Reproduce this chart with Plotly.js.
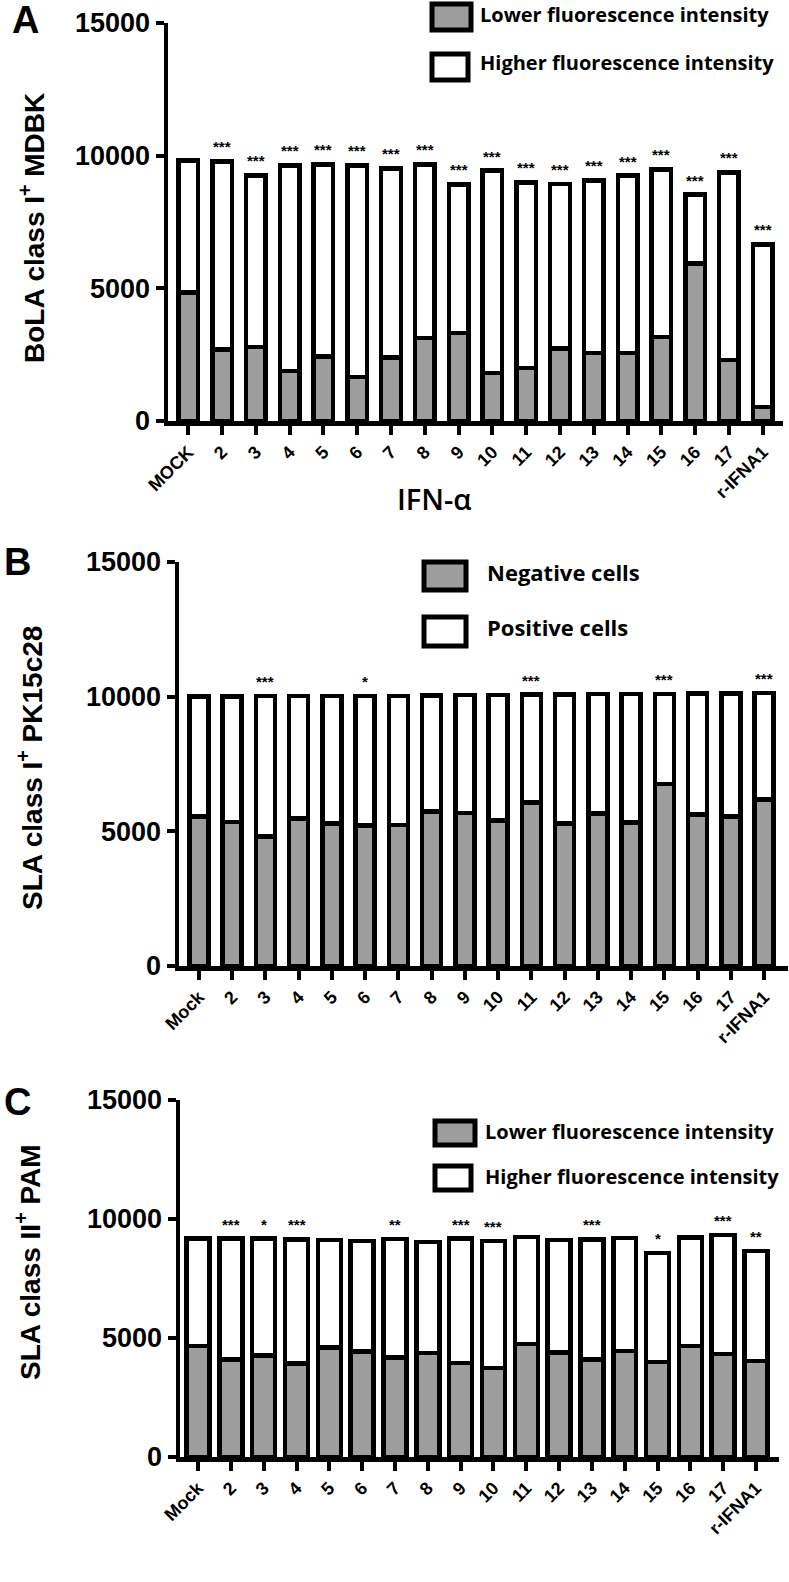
<!DOCTYPE html>
<html>
<head>
<meta charset="utf-8">
<script src="https://cdn.plot.ly/plotly-3.0.1.min.js"></script>
<style>
    html, body { margin: 0; padding: 0; background: #fff; }
    #chart { width: 789px; height: 1582px; }
</style>
</head>
<body>
<div id="chart"></div>
<script>
const IFN_SUBTYPES = ['2', '3', '4', '5', '6', '7', '8', '9', '10', '11', '12', '13', '14', '15', '16', '17', 'r-IFNA1'];
const CATEGORIES_A = ['MOCK', ...IFN_SUBTYPES];
const CATEGORIES_BC = ['Mock', ...IFN_SUBTYPES];

// Panel A: BoLA class I+ MDBK
const LOWER_A = [4850, 2700, 2780, 1880, 2440, 1650, 2400, 3120, 3310, 1800, 1990, 2740, 2560, 2560, 3160, 5940, 2290, 530];
const HIGHER_A = [4970, 7080, 6480, 7750, 7230, 7980, 7120, 6550, 5610, 7640, 7000, 6190, 6510, 6690, 6320, 2590, 7080, 6130];
const STARS_A = ['', '***', '***', '***', '***', '***', '***', '***', '***', '***', '***', '***', '***', '***', '***', '***', '***', '***'];

// Panel B: SLA class I+ PK15c28
const NEGATIVE_B = [5560, 5340, 4810, 5485, 5300, 5220, 5240, 5730, 5680, 5400, 6080, 5300, 5670, 5330, 6750, 5630, 5550, 6190];
const POSITIVE_B = [4440, 4660, 5210, 4535, 4720, 4810, 4790, 4320, 4380, 4670, 4000, 4780, 4420, 4760, 3350, 4480, 4560, 3940];
const STARS_B = ['', '', '***', '', '', '*', '', '', '', '', '***', '', '', '', '***', '', '', '***'];

// Panel C: SLA class II+ PAM
const LOWER_C = [4670, 4100, 4270, 3920, 4600, 4430, 4190, 4360, 3960, 3750, 4740, 4390, 4100, 4460, 3990, 4670, 4320, 4030];
const HIGHER_C = [4510, 5080, 4910, 5220, 4510, 4640, 4970, 4680, 5220, 5320, 4510, 4720, 5040, 4750, 4590, 4560, 5010, 4630];
const STARS_C = ['', '***', '*', '***', '', '', '**', '', '***', '***', '', '', '***', '', '*', '', '***', '**'];

const Y_TICKS = [0, 5000, 10000, 15000];

const WIDTH = 789;
const HEIGHT = 1582;
const GREY = '#9d9d9d';
const BOLD_FONT = 'Liberation Sans, Arial, sans-serif';
const LEGEND_FONT = 'Open Sans, sans-serif';

const px = (x) => x / WIDTH;
const py = (y) => 1 - y / HEIGHT;

const panels = [
    {
        letter: 'A', letterPos: [25, 20],
        xBox: [168, 783], yBox: [23, 421], xRange: [-0.6, 17.6], barWidth: 0.58,
        categories: CATEGORIES_A, lower: LOWER_A, higher: HIGHER_A, stars: STARS_A,
        title: 'BoLA class I<sup>+</sup> MDBK', titlePos: [32, 228],
        legend: ['Lower fluorescence intensity', 'Higher fluorescence intensity'],
        legendFont: 20, legendText: 478,
        legendBoxes: [[432, 4, 471, 30], [432, 54, 468, 80]], legendY: [15, 63],
    },
    {
        letter: 'B', letterPos: [17, 562],
        xBox: [179, 788], yBox: [562, 966], xRange: [-0.6, 17.72], barWidth: 0.57,
        categories: CATEGORIES_BC, lower: NEGATIVE_B, higher: POSITIVE_B, stars: STARS_B,
        title: 'SLA class I<sup>+</sup> PK15c28', titlePos: [30, 768],
        legend: ['Negative cells', 'Positive cells'],
        legendFont: 22, legendText: 485,
        legendBoxes: [[424, 562, 466, 590], [424, 617, 466, 646]], legendY: [572, 627],
    },
    {
        letter: 'C', letterPos: [17, 1102],
        xBox: [180, 779], yBox: [1100, 1457], xRange: [-0.55, 17.7], barWidth: 0.7,
        categories: CATEGORIES_BC, lower: LOWER_C, higher: HIGHER_C, stars: STARS_C,
        title: 'SLA class II<sup>+</sup> PAM', titlePos: [28, 1262],
        legend: ['Lower fluorescence intensity', 'Higher fluorescence intensity'],
        legendFont: 20, legendText: 483,
        legendBoxes: [[435, 1121, 475, 1145], [435, 1166, 471, 1190]], legendY: [1131, 1176],
    },
];

const traces = [];
const annotations = [];
const shapes = [];
const layout = {
    width: WIDTH,
    height: HEIGHT,
    margin: { t: 0, r: 0, b: 0, l: 0 },
    paper_bgcolor: '#fff',
    plot_bgcolor: 'rgba(0,0,0,0)',
    barmode: 'stack',
    showlegend: false,
    font: { family: BOLD_FONT, color: '#000' },
};

panels.forEach((panel, index) => {
    const suffix = index === 0 ? '' : String(index + 1);
    const xRef = `x${suffix}`;
    const yRef = `y${suffix}`;

    [[panel.lower, GREY], [panel.higher, '#ffffff']].forEach(([values, color]) => {
        traces.push({
            type: 'bar',
            x: panel.categories,
            y: values,
            width: panel.barWidth,
            xaxis: xRef,
            yaxis: yRef,
            marker: { color, line: { color: '#000', width: 4.5 } },
            hoverinfo: 'x+y',
        });
    });

    layout[`xaxis${suffix}`] = {
        domain: [px(panel.xBox[0]), px(panel.xBox[1])],
        anchor: yRef,
        type: 'category',
        range: panel.xRange,
        showline: true,
        linewidth: 4.5,
        linecolor: '#000',
        ticks: 'outside',
        ticklen: 9,
        tickwidth: 4,
        tickcolor: '#000',
        tickangle: -45,
        tickfont: { family: BOLD_FONT, size: 18, color: '#000', weight: 'bold' },
        showgrid: false,
        zeroline: false,
        fixedrange: true,
    };

    layout[`yaxis${suffix}`] = {
        domain: [py(panel.yBox[1]), py(panel.yBox[0])],
        anchor: xRef,
        range: [0, 15000],
        tickvals: Y_TICKS,
        ticktext: Y_TICKS.map(String),
        showline: true,
        linewidth: 4.5,
        linecolor: '#000',
        ticks: 'outside',
        ticklen: 8,
        tickwidth: 4,
        tickcolor: '#000',
        tickfont: { family: BOLD_FONT, size: 27, color: '#000', weight: 'bold' },
        showgrid: false,
        zeroline: false,
        fixedrange: true,
    };

    // significance marks sit on top of each stacked bar (x given as category index)
    panel.stars.forEach((star, i) => {
        if (!star) return;
        annotations.push({
            xref: xRef, yref: yRef,
            x: i,
            y: panel.lower[i] + panel.higher[i],
            text: star,
            showarrow: false,
            yanchor: 'bottom',
            yshift: 4,
            font: { family: BOLD_FONT, size: 15, color: '#000', weight: 'bold' },
        });
    });

    annotations.push({
        xref: 'paper', yref: 'paper',
        x: px(panel.titlePos[0]), y: py(panel.titlePos[1]),
        text: panel.title,
        textangle: -90,
        showarrow: false,
        xanchor: 'center', yanchor: 'middle',
        font: { family: BOLD_FONT, size: 28, color: '#000', weight: 'bold' },
    });

    annotations.push({
        xref: 'paper', yref: 'paper',
        x: px(panel.letterPos[0]), y: py(panel.letterPos[1]),
        text: panel.letter,
        showarrow: false,
        xanchor: 'center', yanchor: 'middle',
        font: { family: BOLD_FONT, size: 38, color: '#000', weight: 'bold' },
    });

    panel.legendBoxes.forEach((box, i) => {
        shapes.push({
            type: 'rect', xref: 'paper', yref: 'paper',
            x0: px(box[0]), x1: px(box[2]), y0: py(box[3]), y1: py(box[1]),
            fillcolor: i === 0 ? GREY : '#ffffff',
            line: { color: '#000', width: 5 },
        });
        annotations.push({
            xref: 'paper', yref: 'paper',
            x: px(panel.legendText), y: py(panel.legendY[i]),
            text: panel.legend[i],
            showarrow: false,
            xanchor: 'left', yanchor: 'middle',
            font: { family: LEGEND_FONT, size: panel.legendFont, color: '#000', weight: 700 },
        });
    });
});

annotations.push({
    xref: 'paper', yref: 'paper',
    x: px(434), y: py(498),
    text: 'IFN-α',
    showarrow: false,
    xanchor: 'center', yanchor: 'middle',
    font: { family: LEGEND_FONT, size: 29, color: '#000', weight: 600 },
});

layout.annotations = annotations;
layout.shapes = shapes;

Plotly.newPlot('chart', traces, layout, { displayModeBar: false, staticPlot: true });
</script>
</body>
</html>
